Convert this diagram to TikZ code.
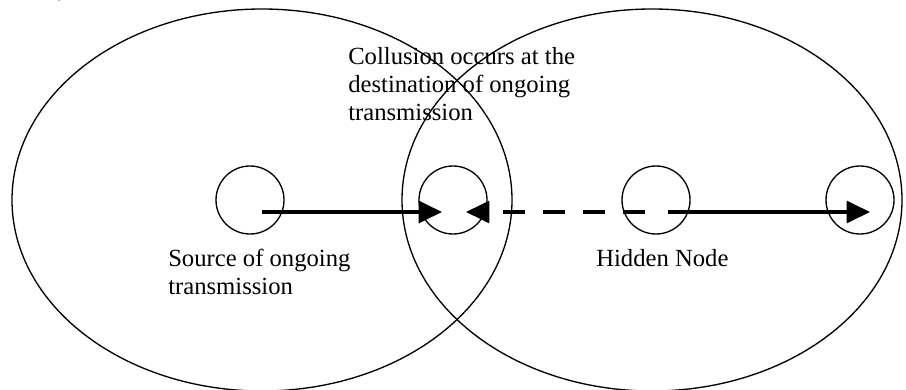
\documentclass[tikz,border=0pt]{standalone}
\usepackage{fontspec}
\setmainfont{Liberation Serif}
\usetikzlibrary{arrows.meta,shapes.geometric}
\begin{document}
\begin{tikzpicture}[x=0.75pt,y=-0.75pt,
  coverage/.style={draw,ellipse,line width=1pt,inner sep=0pt,
    minimum width=375pt,minimum height=286.5pt},
  station/.style={draw,circle,line width=1pt,inner sep=0pt,minimum size=51pt},
  link/.style={line width=2.3pt,-{Triangle[length=17.5pt,width=16.5pt]}},
  interfere/.style={link,dash pattern=on 16.5pt off 13.5pt},
  txt/.style={font=\fontsize{18.5}{21}\selectfont,align=left,inner sep=0pt,anchor=north west}]
\useasboundingbox (0,0) rectangle (906,389);
\begin{scope}
\clip (0,0) rectangle (906,389);
% transmission ranges of the two senders
\node[coverage] (rangeL) at (262,200) {};
\node[coverage] (rangeR) at (652,200) {};
% caption line cut at the top edge
\node[font=\fontsize{18.5}{21}\selectfont,inner sep=0pt,anchor=base west] (cap) at (57,-4) {y};
\end{scope}
% stations
\node[station] (src) at (250,200) {};
\node[station] (dst) at (453,200) {};
\node[station] (hid) at (656,200) {};
\node[station] (rcv) at (860,200) {};
% arrow end points
\coordinate (srcOut) at (262,212);
\coordinate (dstInL) at (442,212);
\coordinate (hidOutL) at (645,212);
\coordinate (dstInR) at (466,212);
\coordinate (hidOutR) at (668,212);
\coordinate (rcvIn) at (870,212);
% transmissions
\draw[link] (srcOut) -- (dstInL);
\draw[interfere] (hidOutL) -- (dstInR);
\draw[link] (hidOutR) -- (rcvIn);
% labels
\node[txt] (collide) at (348,47) {Collusion occurs at the\\destination of ongoing\\transmission};
\node[txt] (srcLbl) at (168,249) {Source of ongoing\\transmission};
\node[txt] (hidLbl) at (596,249) {Hidden Node};
\end{tikzpicture}
\end{document}
